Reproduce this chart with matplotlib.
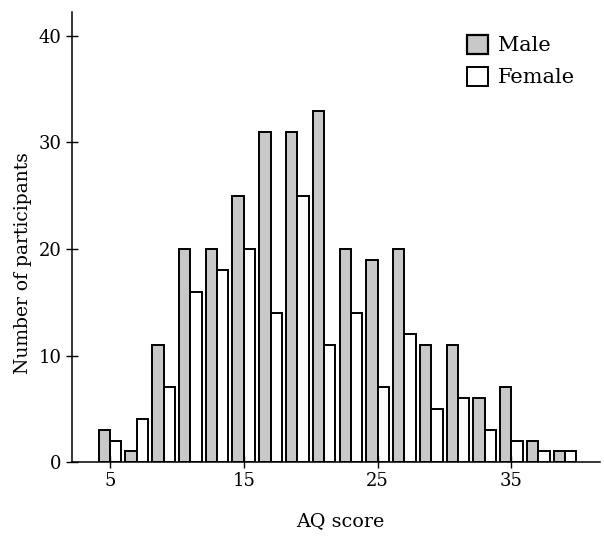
import matplotlib
matplotlib.use("Agg")
import matplotlib.pyplot as plt
import numpy as np
from matplotlib.patches import Patch

plt.rcParams['font.family'] = ['DejaVu Serif']

scores = [5, 7, 9, 11, 13, 15, 17, 19, 21, 23, 25, 27, 29, 31, 33, 35, 37, 39]
male = [3, 1, 11, 20, 20, 25, 31, 31, 33, 20, 19, 20, 11, 11, 6, 7, 2, 1]
female = [2, 4, 7, 16, 18, 20, 14, 25, 11, 14, 7, 12, 5, 6, 3, 2, 1, 1]
xticks = [5, 15, 25, 35]
yticks = [0, 10, 20, 30, 40]

fig = plt.figure(figsize=(6.04, 5.59), dpi=100)
ax = fig.add_axes([0.119, 0.1735, 0.874, 0.805])

x = np.array(scores, dtype=float)
w = 0.85
ax.bar(x - w/2, male, width=w, color='#c8c8c8', edgecolor='black', linewidth=1.4, label='Male')
ax.bar(x + w/2, female, width=w, color='white', edgecolor='black', linewidth=1.4, label='Female')

ax.set_xlim(2.15, 41.6)
ax.set_ylim(0, 42.25)
ax.set_xticks(xticks)
ax.set_yticks(yticks)
ax.tick_params(direction='inout', length=9, width=1, labelsize=13, pad=3)
for s in ['top', 'right']:
    ax.spines[s].set_visible(False)
for s in ['left', 'bottom']:
    ax.spines[s].set_linewidth(1.1)

ax.set_xlabel('AQ score', fontsize=13.8, va='center')
ax.set_ylabel('Number of participants', fontsize=13.5)
ax.xaxis.set_label_coords(0.509, -0.131)
ax.yaxis.set_label_coords(-0.075, 0.442)

handles = [Patch(facecolor='#c8c8c8', edgecolor='black', linewidth=1.6, label='Male'),
           Patch(facecolor='white', edgecolor='black', linewidth=1.4, label='Female')]
fig.legend(handles=handles, loc='upper left', bbox_to_anchor=(467/604, 1 - 35/559),
           frameon=False, fontsize=15, handlelength=1.0, handleheight=1.0,
           handletextpad=0.48, labelspacing=0.55, borderaxespad=0, borderpad=0)

fig.savefig('out.png', dpi=100)
